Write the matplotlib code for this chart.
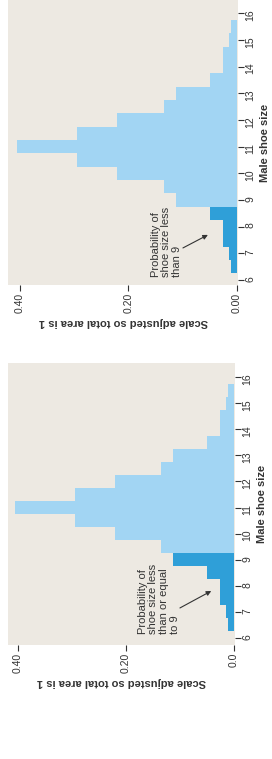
import matplotlib
matplotlib.use("Agg")
import matplotlib.pyplot as plt

plt.rcParams["font.family"] = ["Liberation Sans", "DejaVu Sans"]

# male shoe sizes (half-size bins) and the density of each bin
sizes = [6.5, 7, 7.5, 8, 8.5, 9, 9.5, 10, 10.5, 11, 11.5, 12, 12.5, 13, 13.5, 14, 14.5, 15, 15.5]
density = [0.011, 0.014, 0.026, 0.026, 0.050, 0.112, 0.135, 0.221, 0.295, 0.405,
           0.295, 0.221, 0.135, 0.112, 0.050, 0.026, 0.026, 0.014, 0.011]

size_ticks = [6, 7, 8, 9, 10, 11, 12, 13, 14, 15, 16]
dens_ticks = [0.0, 0.2, 0.4]
dens_labels_top = ["0.00", "0.20", "0.40"]
dens_labels_bottom = ["0.0", "0.20", "0.40"]

note_top = "Probability of\nshoe size less\nthan 9"
note_bottom = "Probability of\nshoe size less\nthan or equal\nto 9"

light = "#a2d5f3"
dark = "#2f9fd8"
panel_bg = "#ede9e2"
ink = "#333333"

W, H = 272, 759
fig = plt.figure(figsize=(W / 100, H / 100), dpi=100)


def px_axes(x0, y0, x1, y1):
    return fig.add_axes([x0 / W, 1 - y1 / H, (x1 - x0) / W, (y1 - y0) / H])


def panel(ax, dark_sizes, xlim, ylim, labels, note, note_xy, tail, head):
    colors = [dark if s in dark_sizes else light for s in sizes]
    ax.barh(sizes, density, height=0.5, color=colors, linewidth=0)
    ax.set_facecolor(panel_bg)
    ax.set_xlim(*xlim)
    ax.set_ylim(*ylim)
    for sp in ax.spines.values():
        sp.set_visible(False)

    ax.set_xticks(dens_ticks)
    ax.set_xticklabels(labels)
    ax.set_yticks(size_ticks)
    ax.yaxis.tick_right()
    ax.tick_params(axis="both", length=4, width=0.8, color=ink, labelsize=7.5,
                   labelcolor=ink, pad=1.5)
    ax.tick_params(axis="x", labelrotation=90)
    ax.tick_params(axis="y", labelrotation=90)

    ax.set_xlabel("Scale adjusted so total area is 1", rotation=180,
                  fontsize=8, fontweight="bold", color=ink, labelpad=3)
    ax.yaxis.set_label_position("right")
    ax.set_ylabel("Male shoe size", rotation=90, fontsize=8,
                  fontweight="bold", color=ink, labelpad=3)

    ax.text(note_xy[0], note_xy[1], note, rotation=90, ha="center", va="bottom",
            multialignment="left", fontsize=8, color=ink, linespacing=1.1)
    ax.annotate("", xy=head, xytext=tail,
                arrowprops=dict(arrowstyle="-|>", color=ink, lw=0.8,
                                mutation_scale=7, shrinkA=0, shrinkB=0))


ax1 = px_axes(8, 0, 238, 285)
panel(ax1, [6.5, 7, 7.5, 8, 8.5], (0.422, -0.002), (5.81, 16.5),
      dens_labels_top, note_top, (0.130, 6.12), (0.0995, 7.2), (0.0535, 7.69))

ax2 = px_axes(8, 363, 235, 645)
panel(ax2, [6.5, 7, 7.5, 8, 8.5, 9], (0.4185, -0.002), (5.73, 16.54),
      dens_labels_bottom, note_bottom, (0.139, 6.15), (0.10, 7.15), (0.042, 7.8))

fig.savefig("out.png", dpi=100, facecolor="white")
